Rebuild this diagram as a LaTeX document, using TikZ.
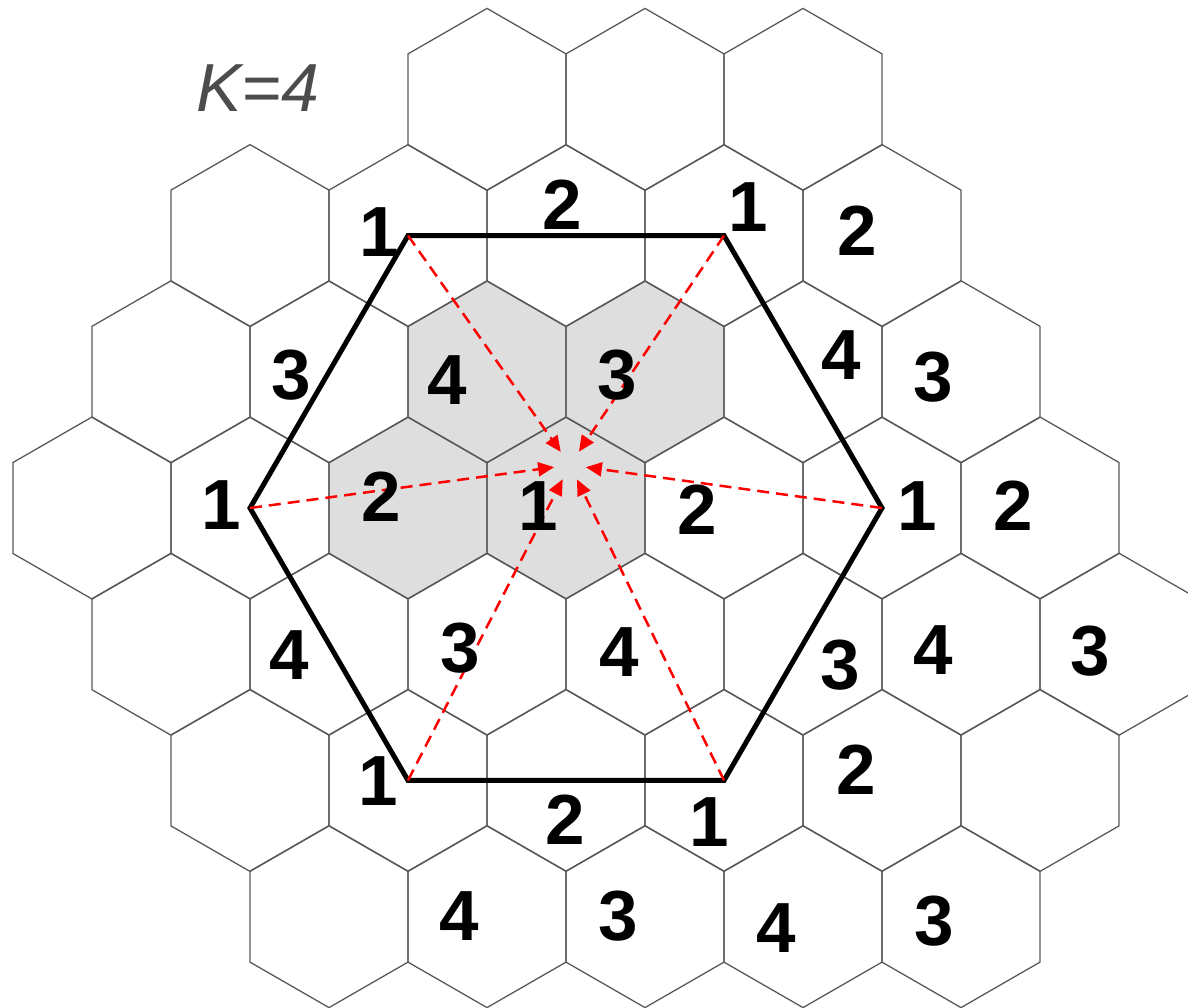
\documentclass[tikz,border=0pt]{standalone}
\usepackage{fontspec}
\setsansfont{Liberation Sans}
\usetikzlibrary{arrows.meta}
\tikzset{
  cellhex/.style={draw=black!65, line width=0.65pt, line join=miter},
  cellshade/.style={fill=black!13},
  clusterhex/.style={draw=black, line width=2.5pt, line join=miter},
  interf/.style={
    draw=red, line width=1.25pt, dash pattern=on 6pt off 3.5pt,
    -{Triangle[length=8pt,width=7pt]}, shorten >=8pt
  },
  cellnum/.style={font=\sffamily\bfseries\fontsize{35.5}{36}\selectfont, inner sep=0pt},
  reuse/.style={font=\sffamily\itshape\fontsize{34}{34}\selectfont, text=black!70, inner sep=0pt}
}
% one pointy-top cell round the current origin
\newcommand{\hexpath}{(0,-91) -- (79,-45.5) -- (79,45.5) -- (0,91) -- (-79,45.5) -- (-79,-45.5) -- cycle}
% row / first half column / last half column
\newcommand{\cellrows}{0/5/9, 1/2/10, 2/1/11, 3/0/12, 4/1/13, 5/2/12, 6/3/11}

\begin{document}
\begin{tikzpicture}[x=0.5pt, y=-0.5pt]
  \clip (0,0) rectangle (1188,1007);
  %
  % ==================================================================
  % Cell centres: (c<col>r<row>), centre cell is c6r3
  % ==================================================================
  \foreach \row/\cfirst/\clast in \cellrows {
    \pgfmathtruncatemacro{\cnext}{\cfirst+2}
    \foreach \col in {\cfirst,\cnext,...,\clast} {
      \pgfmathtruncatemacro{\cn}{\col}
      \coordinate (c\cn r\row) at ({92+79*\cn},{99.4+136.2*\row});
    }
  }
  %
  % ==================================================================
  % Cluster of K=4 cells (shaded), then the whole grid
  % ==================================================================
  \foreach \cell in {c5r2, c7r2, c4r3, c6r3}
    \fill[cellshade, shift={(\cell)}] \hexpath;
  \foreach \row/\cfirst/\clast in \cellrows {
    \pgfmathtruncatemacro{\cnext}{\cfirst+2}
    \foreach \col in {\cfirst,\cnext,...,\clast} {
      \pgfmathtruncatemacro{\cn}{\col}
      \draw[cellhex, shift={(c\cn r\row)}] \hexpath;
    }
  }
  %
  % ==================================================================
  % Co-channel cells of the centre cell
  % ==================================================================
  \draw[clusterhex] (c4r1) -- (c8r1) -- (c10r3) -- (c8r5)
    -- (c4r5) -- (c2r3) -- cycle;
  \coordinate (aim) at (570,465);
  \foreach \v in {c4r1, c8r1, c10r3, c8r5, c4r5, c2r3}
    \draw[interf] (\v) -- (aim);
  %
  % ==================================================================
  % Channel group numbers
  % ==================================================================
  \foreach \x/\y/\t [count=\n] in {
      379/232/1, 562/205/2, 748/207/1, 857/231/2,
      291/375/3, 447/380/4, 617/375/3, 841/355/4, 933/377/3,
      221/505/1, 381/497/2, 538/506/1, 697/510/2, 917/506/1, 1013/506/2,
      289/655/4, 460/648/3, 619/652/4, 840/665/3, 933/650/4, 1090/651/3,
      378/781/1, 565/820/2, 709/822/1, 856/770/2,
      459/916/4, 618/916/3, 776/928/4, 934/921/3}
    \node[cellnum] (num\n) at (\x,\y) {\t};
  \node[reuse] (reuse) at (258,88) {K=4};
\end{tikzpicture}
\end{document}
